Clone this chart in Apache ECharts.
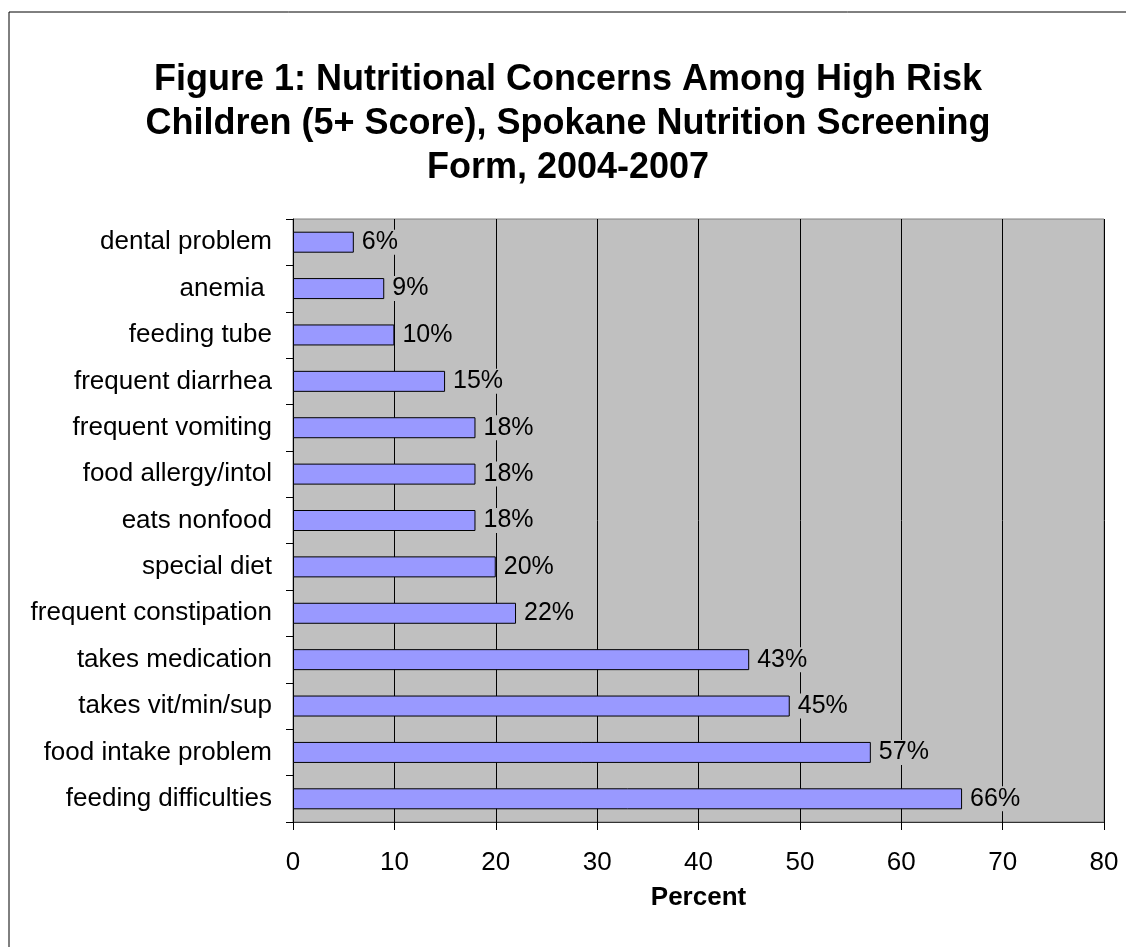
<!DOCTYPE html>
<html><head><meta charset="utf-8">
<script src="https://cdn.jsdelivr.net/npm/echarts@6/dist/echarts.min.js"></script>
<style>html,body{margin:0;padding:0;background:#fff}#c{width:1126px;height:947px}</style>
</head><body><div id="c"></div>
<script>
var categories = ["dental problem","anemia ","feeding tube","frequent diarrhea","frequent vomiting","food allergy/intol","eats nonfood","special diet","frequent constipation","takes medication","takes vit/min/sup","food intake problem","feeding difficulties"];
var values = [6, 9, 10, 15, 18, 18, 18, 20, 22, 45, 49, 57, 66];
var valueLabels = ["6%","9%","10%","15%","18%","18%","18%","20%","22%","43%","45%","57%","66%"];
var xTicks = [0,10,20,30,40,50,60,70,80];

var font = '"Liberation Sans", Arial, sans-serif';
var chart = echarts.init(document.getElementById('c'));
chart.setOption({
  animation: false,
  title: {
    text: 'Figure 1: Nutritional Concerns Among High Risk\nChildren (5+ Score), Spokane Nutrition Screening\nForm, 2004-2007',
    left: 563, top: 53, textAlign: 'center',
    textStyle: {fontFamily: font, fontSize: 36, fontWeight: 'bold', color: '#000', lineHeight: 44}
  },
  graphic: [{type: 'rect', shape: {x: 9, y: 12, width: 1125, height: 940}, style: {fill: 'none', stroke: '#000', lineWidth: 1}, z: -1}],
  grid: {left: 293, right: 22, top: 219, bottom: 125, show: true, backgroundColor: '#C0C0C0', borderColor: '#808080', borderWidth: 1},
  xAxis: {
    type: 'value', min: 0, max: 80, interval: 10,
    name: 'Percent', nameLocation: 'middle', nameGap: 63,
    nameTextStyle: {fontFamily: font, fontSize: 26, fontWeight: 'bold', color: '#000'},
    axisLine: {show: true, lineStyle: {color: '#333', width: 1}},
    axisTick: {show: true, length: 8, lineStyle: {color: '#000'}},
    axisLabel: {fontFamily: font, fontSize: 26, color: '#000', margin: 28, formatter: function(v){return xTicks.indexOf(v) >= 0 ? String(v) : '';}},
    splitLine: {show: true, lineStyle: {color: '#000', width: 1}}
  },
  yAxis: {
    type: 'category', data: categories, inverse: true,
    axisLine: {show: true, lineStyle: {color: '#000', width: 1}},
    axisTick: {show: true, length: 7, alignWithLabel: false, lineStyle: {color: '#000'}},
    axisLabel: {fontFamily: font, fontSize: 26, color: '#000', margin: 21},
    splitLine: {show: false}
  },
  series: [{
    type: 'bar', data: values, barWidth: 21,
    itemStyle: {color: '#9999FF', borderColor: '#000', borderWidth: 1},
    label: {show: true, position: 'right', distance: 7, fontFamily: font, fontSize: 25, color: '#000',
      backgroundColor: '#C0C0C0', padding: [0, 1, 0, 1],
      formatter: function(p){return valueLabels[p.dataIndex];}}
  }]
});
</script></body></html>
